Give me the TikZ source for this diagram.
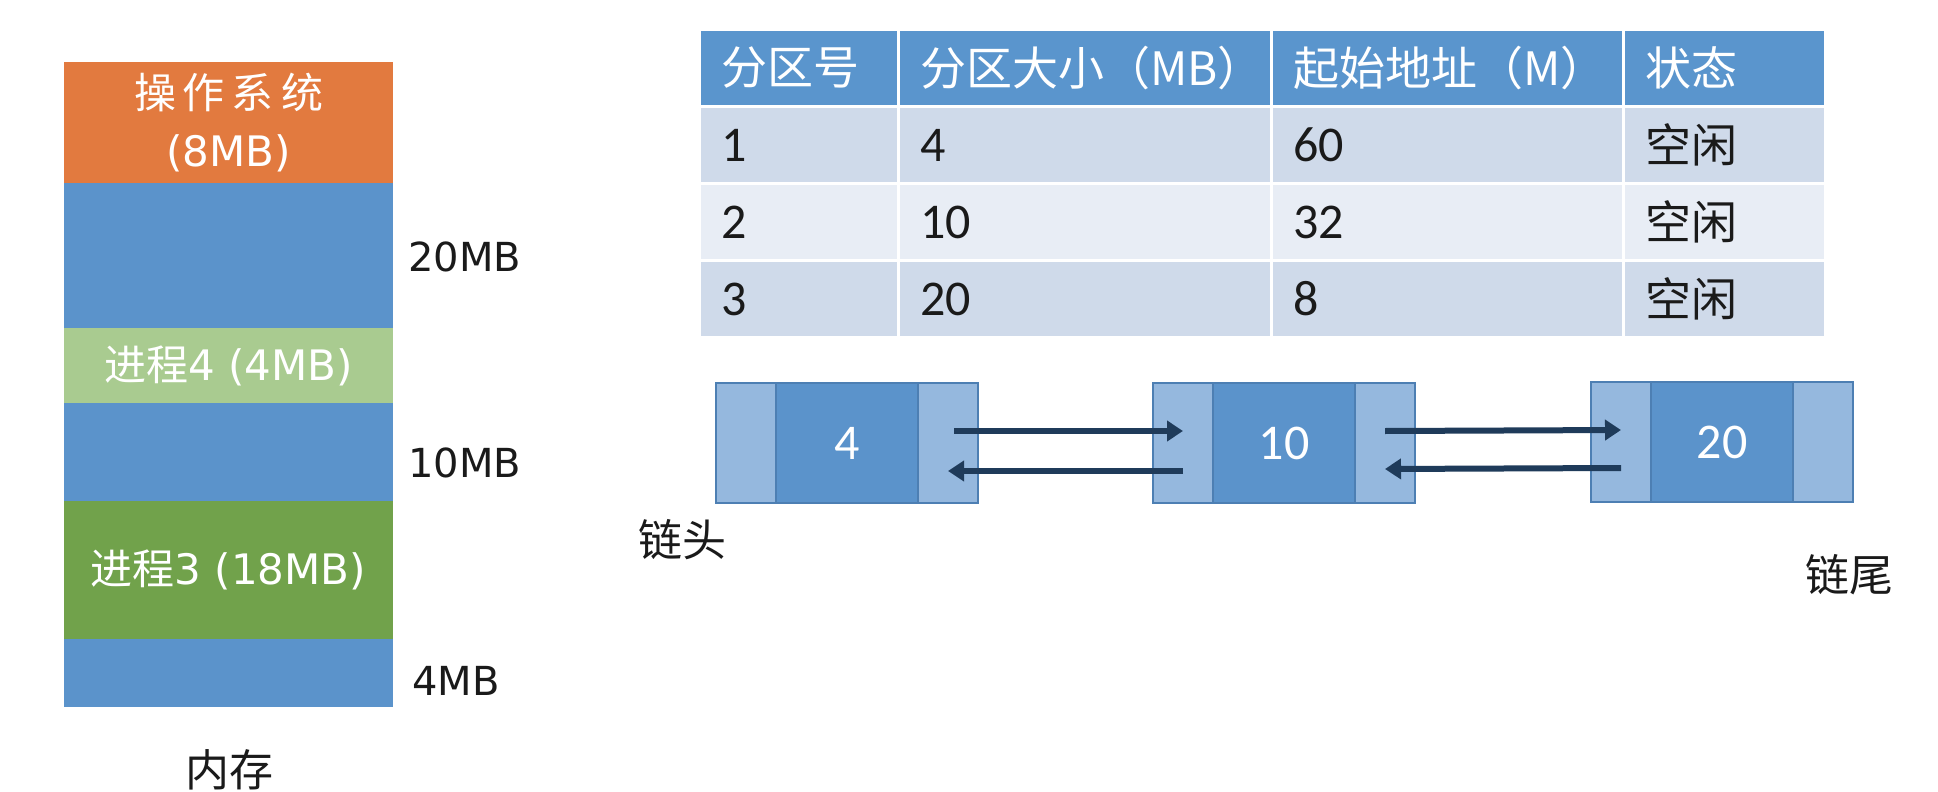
\documentclass[tikz,border=0pt]{standalone}
\usepackage{fontspec}
\setmainfont{DejaVu Sans}
\newfontfamily\cjk{Noto Sans CJK SC}
\newfontfamily\tabfont{Carlito}
\usetikzlibrary{arrows.meta,positioning}
\definecolor{osorange}{HTML}{E27A3F}
\definecolor{freeblue}{HTML}{5B93CB}
\definecolor{procA}{HTML}{A9CB90}
\definecolor{procB}{HTML}{71A24B}
\definecolor{hdrblue}{HTML}{5A95CD}
\definecolor{rowa}{HTML}{CFDAEA}
\definecolor{rowb}{HTML}{E8EDF5}
\definecolor{ptrblue}{HTML}{95B8DE}
\definecolor{edgeblue}{HTML}{4D7FB3}
\definecolor{linkc}{HTML}{1F3B5A}
\definecolor{ink}{HTML}{1A1A1A}

\begin{document}
\begin{tikzpicture}[
  x=0.5pt, y=-0.5pt,
  blk/.style={minimum width=164.5pt, inner sep=0pt, outer sep=0pt, align=center,
              text=white, font=\fontsize{21}{29}\selectfont},
  side/.style={anchor=west, inner sep=0pt, text=ink, font=\fontsize{20}{24}\selectfont},
  cell/.style={anchor=north west, minimum height=37pt, inner xsep=10pt, inner ysep=0pt,
               outer sep=0pt, align=left, text=ink, font=\tabfont\fontsize{25}{28}\selectfont},
  hdr/.style={cell, fill=hdrblue, text=white, font=\cjk\fontsize{23}{26}\selectfont},
  ptr/.style={minimum width=30pt, minimum height=60pt, inner sep=0pt, outer sep=0pt,
              fill=ptrblue, draw=edgeblue, line width=0.6pt},
  dat/.style={ptr, minimum width=71pt, fill=freeblue, text=white,
              font=\tabfont\fontsize{25}{28}\selectfont},
  link/.style={-{Triangle[length=8pt,width=10pt]}, line width=3pt, linkc},
  lbl/.style={text=ink, font=\cjk\fontsize{22}{26}\selectfont},
]
\useasboundingbox (0,0) rectangle (1938,792);
\fill[white] (0,0) rectangle (1938,792);

% ============================================================ MEMORY
\node[blk, fill=osorange, minimum height=60.5pt, anchor=north] (os) at (228.5,62)
  {{\cjk 操\,作\,系\,统}\\(8MB)};
\node[blk, fill=freeblue, minimum height=72.5pt, below=0pt of os] (free20) {};
\node[blk, fill=procA, minimum height=37.5pt, below=0pt of free20] (p4) {{\cjk 进程}4 (4MB)};
\node[blk, fill=freeblue, minimum height=49pt, below=0pt of p4] (free10) {};
\node[blk, fill=procB, minimum height=69pt, below=0pt of free10] (p3) {{\cjk 进程}3 (18MB)};
\node[blk, fill=freeblue, minimum height=34pt, below=0pt of p3] (free4) {};

\node[side] (l20) at (408,257) {20MB};
\node[side] (l10) at (408,463) {10MB};
\node[side] (l4)  at (412,681) {4MB};
\node[lbl] (mem) at (229,770) {内存};

% ============================================================ TABLE
\node[hdr, text width=78pt]    (h1) at (701,31)  {分区号};
\node[hdr, text width=165pt]   (h2) at (900,31)  {分区大小（MB）};
\node[hdr, text width=154.5pt] (h3) at (1273,31) {起始地址（M）};
\node[hdr, text width=79.5pt]  (h4) at (1625,31) {状态};

\foreach \yt/\rowc/\num/\size/\addr [count=\r] in {108/rowa/1/4/60, 185/rowb/2/10/32, 262/rowa/3/20/8}{
  \node[cell, fill=\rowc, text width=78pt]    (c\r-1) at (701,\yt)  {\num};
  \node[cell, fill=\rowc, text width=165pt]   (c\r-2) at (900,\yt)  {\size};
  \node[cell, fill=\rowc, text width=154.5pt] (c\r-3) at (1273,\yt) {\addr};
  \node[cell, fill=\rowc, text width=79.5pt, font=\cjk\fontsize{23}{26}\selectfont] (c\r-4) at (1625,\yt) {空闲};
}

% ============================================================ FREE LIST
\node[ptr] (n1l) at (746,443) {};
\node[dat, right=0pt of n1l] (n1) {4};
\node[ptr, right=0pt of n1] (n1r) {};

\node[ptr] (n2l) at (1183,443) {};
\node[dat, right=0pt of n2l] (n2) {10};
\node[ptr, right=0pt of n2] (n2r) {};

\node[ptr] (n3l) at (1621,442) {};
\node[dat, right=0pt of n3l] (n3) {20};
\node[ptr, right=0pt of n3] (n3r) {};

\draw[link] ([xshift=3pt,yshift=6pt]n1r.center) -- ([yshift=6pt]n2l.center);
\draw[link] ([yshift=-14pt]n2l.center) -- ([yshift=-14pt]n1r.center);
\draw[link] ([yshift=6pt]n2r.center) -- ([yshift=6pt]n3l.center);
\draw[link] ([yshift=-13pt]n3l.center) -- ([yshift=-13pt]n2r.center);

\node[lbl] (head) at (682,540) {链头};
\node[lbl] (tail) at (1849,575) {链尾};

\end{tikzpicture}
\end{document}
